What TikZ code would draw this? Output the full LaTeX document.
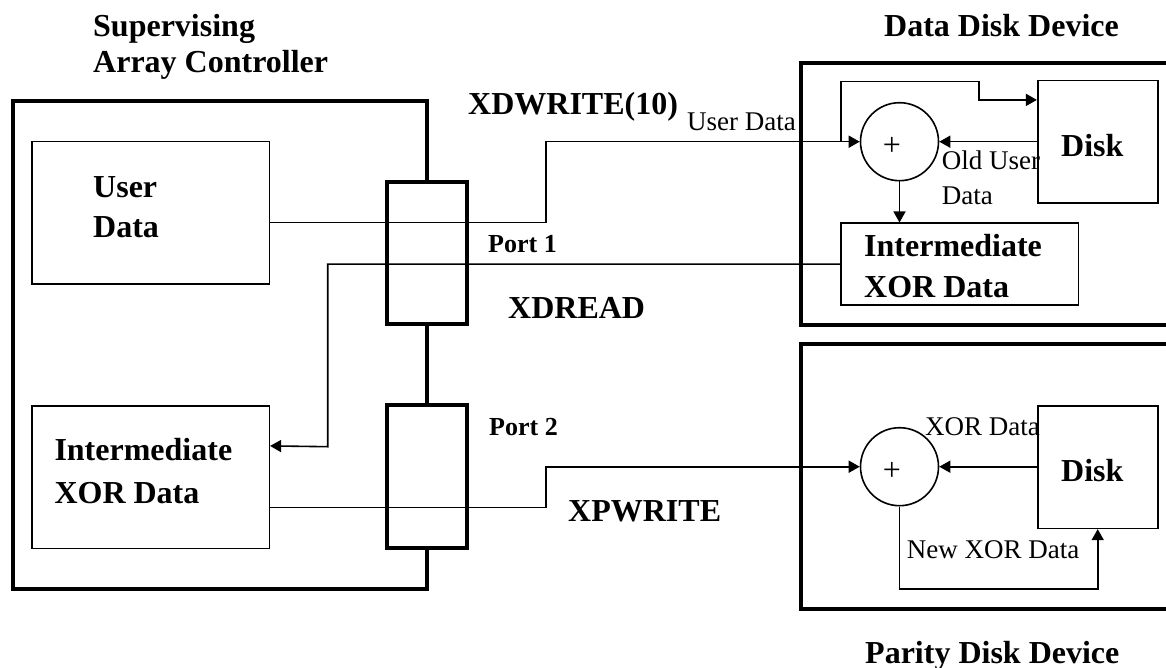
\documentclass[tikz,border=0pt]{standalone}
\usepackage{fontspec}
\setmainfont{Liberation Serif}
\usetikzlibrary{arrows.meta}
\tikzset{
  thickbox/.style={draw, rectangle, line width=4pt, inner sep=0pt},
  thinbox/.style={draw, rectangle, line width=1.6pt, fill=white, inner sep=0pt},
  sumnode/.style={draw, circle, line width=1.6pt, fill=white, inner sep=0pt, minimum size=78pt},
  conn/.style={line width=1.6pt},
  arr/.style={conn, -{Triangle[length=11pt,width=12pt]}},
  bigtxt/.style={font=\fontsize{32}{36}\selectfont\bfseries, inner sep=0pt, anchor=base west},
  smtxt/.style={font=\fontsize{27}{30}\selectfont, inner sep=0pt, anchor=base west},
  porttxt/.style={font=\fontsize{26}{30}\selectfont\bfseries, inner sep=0pt, anchor=base west},
  plustxt/.style={font=\fontsize{32}{36}\selectfont, inner sep=0pt},
}
\begin{document}
\begin{tikzpicture}[x=1pt, y=-1pt]
\useasboundingbox[fill=white] (0,0) rectangle (1166,668);

% --- containers ---
\node[thickbox, minimum width=414pt, minimum height=488.6pt] (ctrl) at (219.7,345) {};
\node[thickbox, minimum width=379.3pt, minimum height=262.3pt] (ddev) at (990.35,193.85) {};
\node[thickbox, minimum width=379.3pt, minimum height=265.3pt] (pdev) at (990.35,476.65) {};

% --- controller contents ---
\node[thinbox, minimum width=237.6pt, minimum height=142.3pt] (ud) at (150.5,212.85) {};
\node[thinbox, minimum width=237.6pt, minimum height=142.6pt] (ixl) at (150.5,477) {};
\node[thickbox, fill=white, minimum width=80pt, minimum height=142.6pt] (p1) at (426.7,253) {};
\node[thickbox, fill=white, minimum width=80pt, minimum height=142.7pt] (p2) at (426.7,476.35) {};

% --- data disk device contents ---
\node[sumnode] (c1) at (899.5,141.7) {};
\node[thinbox, minimum width=120pt, minimum height=122.6pt] (disk1) at (1097.7,142) {};
\node[thinbox, minimum width=237.6pt, minimum height=81.7pt] (ixr) at (959.5,264.15) {};

% --- parity disk device contents ---
\node[sumnode] (c2) at (899.5,466.7) {};
\node[thinbox, minimum width=120pt, minimum height=122.6pt] (disk2) at (1097.7,467) {};

% --- connectors ---
\coordinate (fb) at (840.7,141.7);
\draw[arr] ([yshift=-9.85pt]ud.east) -- ++(275.7,0) |- (c1.west);
\draw[arr] (fb) |- (979,81.7) |- ([yshift=-20pt]disk1.north west);
\draw[arr] (disk1.west |- c1.east) -- (c1.east);
\draw[arr] (c1.south) -- (c1.south |- ixr.north);
\draw[arr] (ixr.west) -| (327.7,446.7) -- ([yshift=-41pt]ixl.north east);
\draw[arr] ([yshift=-30.3pt]ixl.east) -- ++(275.7,0) |- (c2.west);
\draw[arr] (disk2.west |- c2.east) -- (c2.east);
\draw[arr] (c2.south) -- ++(0,82.6) -| (disk2.south);

% --- texts ---
\node[bigtxt] (tsup1) at (93,37) {Supervising};
\node[bigtxt] (tsup2) at (93,73) {Array Controller};
\node[bigtxt] (tddd) at (884,36.5) {Data Disk Device};
\node[bigtxt] (tpdd) at (865,663.3) {Parity Disk Device};
\node[bigtxt] (txdw) at (468,115) {XDWRITE(10)};
\node[smtxt] (tud) at (687,131) {User Data};
\node[porttxt] (tp1) at (488,252) {Port 1};
\node[bigtxt] (txdr) at (508,318.3) {XDREAD};
\node[porttxt] (tp2) at (489,435.5) {Port 2};
\node[bigtxt] (txpw) at (568,521.7) {XPWRITE};
\node[bigtxt] (tud1) at (93,198) {User};
\node[bigtxt] (tud2) at (93,238) {Data};
\node[bigtxt] (tixl1) at (54.3,460) {Intermediate};
\node[bigtxt] (tixl2) at (54.3,503) {XOR Data};
\node[bigtxt] (tixr1) at (864,256.7) {Intermediate};
\node[bigtxt] (tixr2) at (864,297.5) {XOR Data};
\node[bigtxt] (tdisk1) at (1061,156.5) {Disk};
\node[bigtxt] (tdisk2) at (1061,481.7) {Disk};
\node[smtxt] (told1) at (941.7,170) {Old User};
\node[smtxt] (told2) at (941.7,204.5) {Data};
\node[smtxt] (txor) at (925,435.5) {XOR Data};
\node[smtxt] (tnew) at (906.7,558.3) {New XOR Data};
\node[plustxt] (plus1) at (892,146) {+};
\node[plustxt] (plus2) at (892,471.7) {+};
\end{tikzpicture}
\end{document}
